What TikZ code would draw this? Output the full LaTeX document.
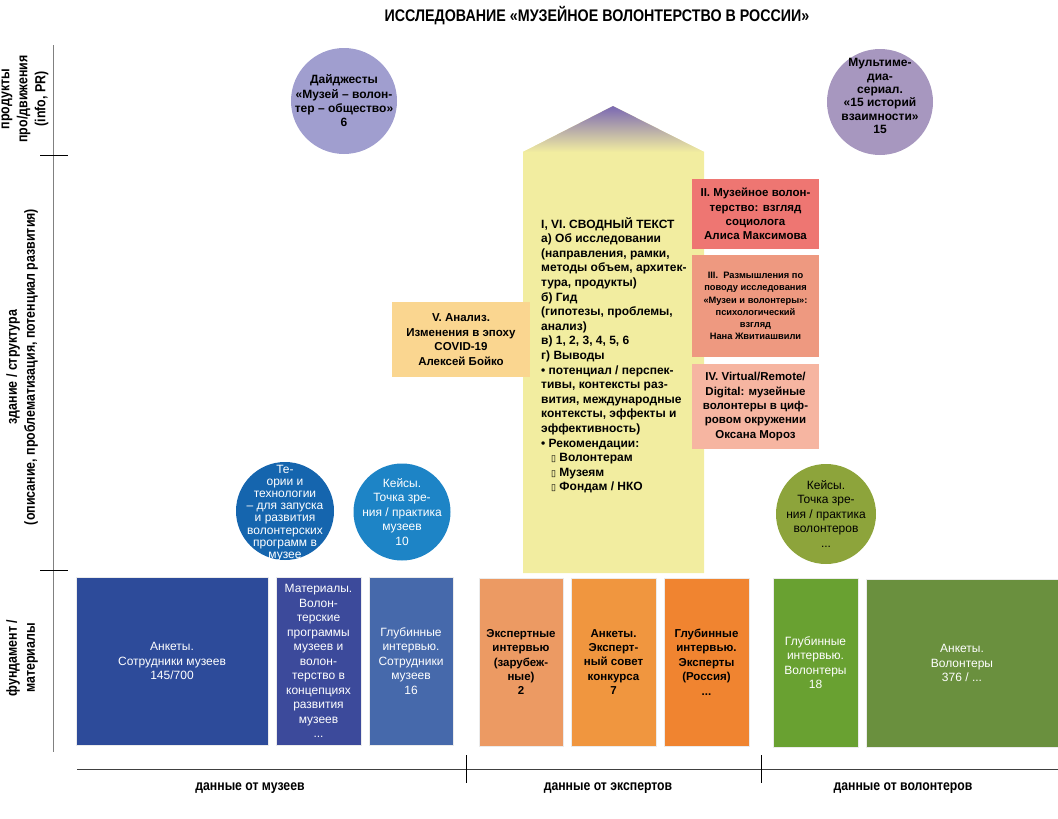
\documentclass[tikz,border=0pt]{standalone}
\usepackage{fontspec}
\setmainfont{Liberation Sans}
\newfontfamily\condfont[FakeStretch=0.85]{Liberation Sans}
\newfontfamily\symfont{DejaVu Sans}
\usepackage{tikz}
\definecolor{digestc}{RGB}{160,158,207}
\definecolor{mediac}{RGB}{167,151,191}
\definecolor{theoryc}{RGB}{21,101,174}
\definecolor{mcasec}{RGB}{29,132,198}
\definecolor{vcasec}{RGB}{141,164,59}
\definecolor{housec}{RGB}{242,237,160}
\definecolor{roofc}{RGB}{122,104,179}
\definecolor{covidc}{RGB}{250,214,144}
\definecolor{socc}{RGB}{238,118,114}
\definecolor{psyc}{RGB}{238,153,128}
\definecolor{digic}{RGB}{246,181,161}
\definecolor{mus1}{RGB}{45,75,154}
\definecolor{mus2}{RGB}{60,74,155}
\definecolor{mus3}{RGB}{70,105,171}
\definecolor{exp1}{RGB}{236,154,99}
\definecolor{exp2}{RGB}{240,150,63}
\definecolor{exp3}{RGB}{240,132,48}
\definecolor{vol1}{RGB}{105,161,49}
\definecolor{vol2}{RGB}{106,144,62}
\tikzstyle{bubble}=[circle, inner sep=0pt, minimum size=106pt]
\tikzstyle{bubtext}=[align=center, inner sep=0pt, font=\fontsize{12}{14.5}\selectfont]
\tikzstyle{box}=[rectangle, draw=black!8, line width=0.6pt, inner sep=0pt, align=center, font=\fontsize{12}{14.5}\selectfont]
\tikzstyle{boldbox}=[box, font=\bfseries\fontsize{11.5}{14.4}\selectfont]
\tikzstyle{axislab}=[align=center, rotate=90, font=\condfont\bfseries\fontsize{14.6}{18}\selectfont]
\tikzstyle{grouplab}=[font=\condfont\bfseries\fontsize{14.4}{15}\selectfont]
\newcommand{\sqmark}{{\symfont\fontsize{9}{10}\selectfont ▯}}

\begin{document}
\begin{tikzpicture}[x=1pt, y=-1pt]
  \useasboundingbox (0,0) rectangle (1058,819);

  % title
  \node[font=\condfont\bfseries\fontsize{16.8}{18}\selectfont] (title) at (597,16)
    {ИССЛЕДОВАНИЕ «МУЗЕЙНОЕ ВОЛОНТЕРСТВО В РОССИИ»};

  % left axis with the three levels
  \draw[black!50, line width=1pt] (53,45) -- (53,752);
  \foreach \y in {155,570}
    \draw[black, line width=0.5pt] (40,\y) -- (68,\y);
  \node[axislab] (lev1) at (25,99) {продукты\\про/движения\\(info, PR)};
  \node[axislab] (lev2) at (22,367) {здание / структура\\(описание, проблематизация, потенциал развития)};
  \node[axislab] (lev3) at (22,658) {фундамент /\\материалы};

  % bottom axis with the three sources
  \draw[black!75, line width=0.8pt] (77,769) -- (1058,769);
  \foreach \x in {466,761}
    \draw[black, line width=0.5pt] (\x,755) -- (\x,783);
  \foreach \x/\t/\n in {250/данные от музеев/src1, 608/данные от экспертов/src2, 903/данные от волонтеров/src3}
    \node[grouplab] (\n) at (\x,788) {\t};

  % the house in the middle
  \fill[housec] (523,573) -- (523,152) -- (613,106) -- (704,152) -- (704,573) -- cycle;
  \shade[top color=roofc, bottom color=housec] (523,152) -- (613,106) -- (704,152) -- cycle;
  \node[anchor=north west, align=left, inner sep=0pt, font=\bfseries\fontsize{12}{14.6}\selectfont] (summary) at (541,217)
    {I, VI. СВОДНЫЙ ТЕКСТ\\
     а) Об исследовании\\
     (направления, рамки,\\
     методы объем, архитек-\\
     тура, продукты)\\
     б) Гид\\
     (гипотезы, проблемы,\\
     анализ)\\
     в) 1, 2, 3, 4, 5, 6\\
     г) Выводы\\
     • потенциал / перспек-\\
     тивы, контексты раз-\\
     вития, международные\\
     контексты, эффекты и\\
     эффективность)\\
     • Рекомендации:\\
     \hspace*{10pt}\sqmark\ Волонтерам\\
     \hspace*{10pt}\sqmark\ Музеям\\
     \hspace*{10pt}\sqmark\ Фондам / НКО};

  % chapters around the house
  \node[boldbox, fill=covidc, draw=none, minimum width=138, minimum height=75] (covid) at (461,339.5)
    {V. Анализ.\\Изменения в эпоху\\COVID-19\\Алексей Бойко};
  \node[boldbox, fill=socc, draw=none, minimum width=127, minimum height=70] (socio) at (755.5,214)
    {II. Музейное волон-\\терство: взгляд\\социолога\\Алиса Максимова};
  \node[boldbox, fill=psyc, draw=none, minimum width=127, minimum height=102, font=\bfseries\fontsize{9.3}{12.3}\selectfont] (psycho) at (755.5,306)
    {III.\ \ Размышления по\\поводу исследования\\«Музеи и волонтеры»:\\психологический\\взгляд\\Нана Жвитиашвили};
  \node[boldbox, fill=digic, draw=none, minimum width=127, minimum height=85] (digital) at (755.5,406.5)
    {IV. Virtual/Remote/\\Digital: музейные\\волонтеры в циф-\\ровом окружении\\Оксана Мороз};

  % products on top
  \node[bubble, fill=digestc] (digest) at (344,101) {};
  \node[bubtext, font=\bfseries\fontsize{12}{14.3}\selectfont] (digest-t) at (digest)
    {Дайджесты\\«Музей – волон-\\тер – общество»\\6};
  \node[bubble, fill=mediac] (media) at (880,102) {};
  \node[bubtext, font=\bfseries\fontsize{12}{13.3}\selectfont] (media-t) at (880,96)
    {Мультиме-\\диа-\\сериал.\\«15 историй\\взаимности»\\15};

  % cases and theories
  \node[bubble, fill=theoryc, minimum size=98pt] (theory) at (285,511) {};
  \node[bubtext, text=white, font=\fontsize{12}{12.1}\selectfont] (theory-t) at (285,513)
    {Те-\\ории и\\технологии\\– для запуска\\и развития\\волонтерских\\программ в\\музее};
  \node[bubble, fill=mcasec, minimum size=97pt] (mcases) at (402,512) {};
  \node[bubtext, text=white] (mcases-t) at (mcases)
    {Кейсы.\\Точка зре-\\ния / практика\\музеев\\10};
  \node[bubble, fill=vcasec, minimum size=100pt] (vcases) at (826,514) {};
  \node[bubtext] (vcases-t) at (vcases)
    {Кейсы.\\Точка зре-\\ния / практика\\волонтеров\\...};

  % foundation: data from museums
  \node[box, fill=mus1, text=white, minimum width=192, minimum height=168] (mq) at (172,661)
    {Анкеты.\\Сотрудники музеев\\145/700};
  \node[box, fill=mus2, text=white, minimum width=85, minimum height=168] (mmat) at (318.5,661)
    {Материалы.\\Волон-\\терские\\программы\\музеев и\\волон-\\терство в\\концепциях\\развития\\музеев\\...};
  \node[box, fill=mus3, text=white, minimum width=84, minimum height=168] (mint) at (411,661)
    {Глубинные\\интервью.\\Сотрудники\\музеев\\16};

  % foundation: data from experts
  \node[boldbox, fill=exp1, minimum width=84, minimum height=168] (eint) at (521,662)
    {Экспертные\\интервью\\(зарубеж-\\ные)\\2};
  \node[boldbox, fill=exp2, minimum width=85, minimum height=168] (eq) at (613.5,662)
    {Анкеты.\\Эксперт-\\ный совет\\конкурса\\7};
  \node[boldbox, fill=exp3, minimum width=85, minimum height=168] (erus) at (706.5,662)
    {Глубинные\\интервью.\\Эксперты\\(Россия)\\...};

  % foundation: data from volunteers
  \node[box, fill=vol1, text=white, minimum width=85, minimum height=169] (vint) at (815.5,662.5)
    {Глубинные\\интервью.\\Волонтеры\\18};
  \node[box, fill=vol2, text=white, minimum width=192, minimum height=168] (vq) at (962,663)
    {Анкеты.\\Волонтеры\\376 / ...};
\end{tikzpicture}
\end{document}
